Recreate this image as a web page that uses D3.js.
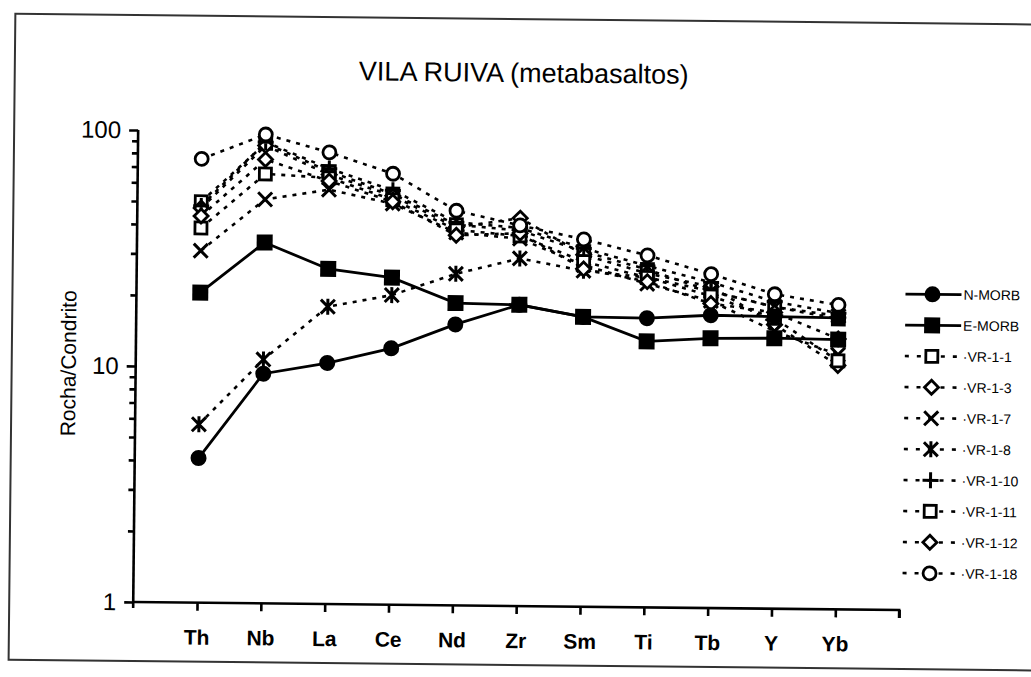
<!DOCTYPE html>
<html>
<head>
<meta charset="utf-8">
<script src="https://cdn.jsdelivr.net/npm/d3@7"></script>
<style>
  html, body { margin: 0; padding: 0; background: #fff; }
  svg { display: block; }
</style>
</head>
<body>
<svg id="chart" width="1031" height="677"></svg>
<script>
// Elements on the x axis (chondrite-normalised spidergram)
const elements = ["Th", "Nb", "La", "Ce", "Nd", "Zr", "Sm", "Ti", "Tb", "Y", "Yb"];

// Reference basalts
const nMorb = [4.1, 9.4, 10.5, 12.2, 15.5, 18.9, 16.9, 16.8, 17.4, 17.3, 17.2];
const eMorb = [20.6, 33.8, 26.3, 24.3, 19.1, 18.9, 16.9, 13.4, 13.9, 14.0, 13.9];

// Vila Ruiva metabasalt samples
const vr1_1  = [50, 89, 68, 55, 41, 39, 32, 27, 22, 19, 17];
const vr1_3  = [47, 87, 66, 54, 40, 44, 31, 26, 23, 16, 10.8];
const vr1_7  = [31, 51.5, 57, 50, 38, 36, 28, 23.5, 20, 15, 12];
const vr1_8  = [5.7, 10.8, 18.2, 20.5, 25.4, 29.7, 26.5, 25, 22, 19, 17.5];
const vr1_10 = [48, 90, 70, 57, 42, 40, 33, 28, 24, 20, 18];
const vr1_11 = [38.7, 66, 64, 52, 39, 37, 29, 25, 21, 17, 11.3];
const vr1_12 = [43.5, 76, 62, 51, 37, 38, 27, 24, 19.5, 18, 14];
const vr1_18 = [76, 97, 82, 67, 47, 41, 36, 31, 26, 21.5, 19.5];

const yTickLabels = [1, 10, 100];

const series = [
  { name: "N-MORB",  values: nMorb,  symbol: "circleFilled", solid: true },
  { name: "E-MORB",  values: eMorb,  symbol: "squareFilled", solid: true },
  { name: "VR-1-1",  values: vr1_1,  symbol: "square" },
  { name: "VR-1-3",  values: vr1_3,  symbol: "diamond" },
  { name: "VR-1-7",  values: vr1_7,  symbol: "cross" },
  { name: "VR-1-8",  values: vr1_8,  symbol: "asterisk" },
  { name: "VR-1-10", values: vr1_10, symbol: "plus" },
  { name: "VR-1-11", values: vr1_11, symbol: "square" },
  { name: "VR-1-12", values: vr1_12, symbol: "diamond" },
  { name: "VR-1-18", values: vr1_18, symbol: "circle" }
];

const svg = d3.select("#chart");
const font = "'Liberation Sans', Arial, sans-serif";
const narrow = "'Liberation Sans Narrow', 'Liberation Sans', Arial, sans-serif";

// The whole sheet sits very slightly askew
const sheet = svg.append("g").attr("transform", "rotate(0.6 516 338)");

// outer frame
sheet.append("rect")
  .attr("x", 12).attr("y", 19).attr("width", 1040).attr("height", 646)
  .attr("fill", "none").attr("stroke", "#333").attr("stroke-width", 2);

const x = d3.scaleLinear().domain([0, 12]).range([136, 902]);
const y = d3.scaleLog().domain([1, 100]).range([606, 134]);

// title
sheet.append("text")
  .attr("x", 521).attr("y", 82)
  .attr("text-anchor", "middle")
  .attr("font-family", font).attr("font-size", 27)
  .attr("fill", "#000")
  .text("VILA RUIVA (metabasaltos)");

// y axis title
sheet.append("text")
  .attr("transform", "translate(76,368) rotate(-90)")
  .attr("text-anchor", "middle")
  .attr("font-family", font).attr("font-size", 21)
  .attr("fill", "#000")
  .text("Rocha/Condrito");

// y axis: log scale with minor ticks
const yAxisG = sheet.append("g").attr("transform", `translate(${x(0)},0)`);
const minorTicks = [];
[1, 10].forEach(d => { for (let k = 2; k <= 9; k++) minorTicks.push(d * k); });
yAxisG.append("g")
  .call(d3.axisLeft(y).tickValues(minorTicks).tickSize(6).tickFormat(""))
  .call(g => g.select(".domain").remove());
yAxisG.append("g")
  .call(d3.axisLeft(y).tickValues(yTickLabels).tickSize(9).tickPadding(8).tickFormat(d3.format("d")))
  .call(g => g.select(".domain").attr("d", `M0,${y(100)}V${y(1) + 6}`));
yAxisG.selectAll("line, path").attr("stroke", "#000").attr("stroke-width", 2.6);
yAxisG.selectAll("text")
  .attr("font-family", font).attr("font-size", 24).attr("fill", "#000");

// x axis: categories sit on integer positions 1..11
const xAxisG = sheet.append("g").attr("transform", `translate(0,${y(1)})`);
xAxisG.call(d3.axisBottom(x).tickValues(d3.range(1, 13)).tickSize(8).tickFormat(""))
  .call(g => g.select(".domain").attr("d", `M${x(0)},0H${x(12)}V8`));
xAxisG.selectAll("line, path").attr("stroke", "#000").attr("stroke-width", 2.6);
sheet.append("g").selectAll("text")
  .data(elements)
  .join("text")
  .attr("x", (d, i) => x(i + 1))
  .attr("y", y(1) + 42)
  .attr("text-anchor", "middle")
  .attr("font-family", narrow)
  .attr("font-weight", "bold")
  .attr("font-size", 21)
  .attr("fill", "#000")
  .text(d => d);

// marker drawing
function drawMarker(g, type, cx, cy) {
  const s = 7;
  switch (type) {
    case "circleFilled":
      g.append("circle").attr("cx", cx).attr("cy", cy).attr("r", 8).attr("fill", "#000");
      break;
    case "squareFilled":
      g.append("rect").attr("x", cx - 8).attr("y", cy - 8).attr("width", 16).attr("height", 16).attr("fill", "#000");
      break;
    case "square":
      g.append("rect").attr("x", cx - 6).attr("y", cy - 6).attr("width", 12).attr("height", 12)
        .attr("fill", "#fff").attr("stroke", "#000").attr("stroke-width", 2.8);
      break;
    case "diamond":
      g.append("path").attr("d", `M${cx},${cy - 7}L${cx + 7},${cy}L${cx},${cy + 7}L${cx - 7},${cy}Z`)
        .attr("fill", "#fff").attr("stroke", "#000").attr("stroke-width", 2.8);
      break;
    case "circle":
      g.append("circle").attr("cx", cx).attr("cy", cy).attr("r", 6.5)
        .attr("fill", "#fff").attr("stroke", "#000").attr("stroke-width", 2.8);
      break;
    case "cross":
      g.append("path").attr("d", `M${cx - s},${cy - s}L${cx + s},${cy + s}M${cx - s},${cy + s}L${cx + s},${cy - s}`)
        .attr("stroke", "#000").attr("stroke-width", 3);
      break;
    case "asterisk":
      g.append("path").attr("d", `M${cx - s},${cy - s}L${cx + s},${cy + s}M${cx - s},${cy + s}L${cx + s},${cy - s}M${cx},${cy - s - 1}V${cy + s + 1}`)
        .attr("stroke", "#000").attr("stroke-width", 3);
      break;
    case "plus":
      g.append("path").attr("d", `M${cx - s - 1},${cy}H${cx + s + 1}M${cx},${cy - s - 1}V${cy + s + 1}`)
        .attr("stroke", "#000").attr("stroke-width", 3);
      break;
  }
}

const line = d3.line()
  .x((d, i) => x(i + 1))
  .y(d => y(d));

const plot = sheet.append("g");
// dashed sample lines first, reference lines on top
const order = [...series.slice(2), ...series.slice(0, 2)];
order.forEach(s => {
  plot.append("path")
    .datum(s.values)
    .attr("d", line)
    .attr("fill", "none")
    .attr("stroke", "#000")
    .attr("stroke-width", s.solid ? 2.8 : 2.6)
    .attr("stroke-dasharray", s.solid ? null : "4,6");
});
order.forEach(s => {
  const g = plot.append("g");
  s.values.forEach((v, i) => drawMarker(g, s.symbol, x(i + 1), y(v)));
});

// legend
const legend = sheet.append("g").attr("transform", "translate(905,290)");
series.forEach((s, i) => {
  const g = legend.append("g").attr("transform", `translate(0,${i * 31})`);
  g.append("line").attr("x1", 0).attr("x2", 56).attr("y1", 0).attr("y2", 0)
    .attr("stroke", "#000").attr("stroke-width", s.solid ? 2.8 : 2.6)
    .attr("stroke-dasharray", s.solid ? null : "4,8");
  drawMarker(g, s.symbol, 27, 0);
  g.append("text").attr("x", 58).attr("y", 5)
    .attr("font-family", font).attr("font-size", 14)
    .attr("fill", "#000")
    .text((s.solid ? "" : "\u00b7") + s.name);
});
</script>
</body>
</html>
